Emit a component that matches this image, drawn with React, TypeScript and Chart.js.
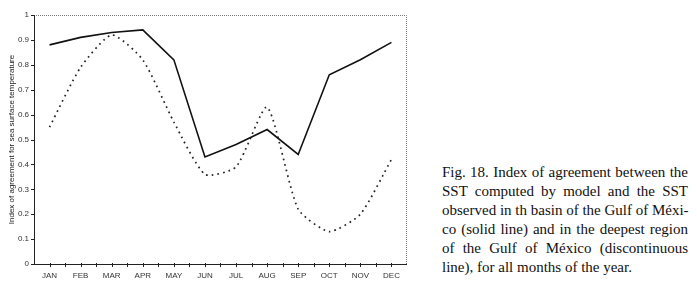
import React, { useEffect, useRef } from "react";
import { Chart, registerables } from "chart.js";

Chart.register(...registerables);

const months = ["JAN", "FEB", "MAR", "APR", "MAY", "JUN", "JUL", "AUG", "SEP", "OCT", "NOV", "DEC"];
const basinValues = [0.88, 0.91, 0.93, 0.94, 0.82, 0.43, 0.48, 0.54, 0.44, 0.76, 0.82, 0.89];
const deepValues = [0.55, 0.79, 0.92, 0.82, 0.57, 0.36, 0.39, 0.63, 0.22, 0.13, 0.20, 0.42];
const yTickLabels = ["0", "0.1", "0.2", "0.3", "0.4", "0.5", "0.6", "0.7", "0.8", "0.9", "1"];
const yTitle = "Index of agreement for sea surface temperature";
const captionLines = [
  "Fig. 18. Index of agreement between the",
  "SST computed by model and the SST",
  "observed in th basin of the Gulf of Méxi-",
  "co (solid line) and in the deepest region",
  "of the Gulf of México (discontinuous",
  "line), for all months of the year.",
];

const framePlugin = {
  id: "frame",
  afterDraw(chart: any) {
    const { ctx, chartArea } = chart;
    const { left, right, top, bottom } = chartArea;
    ctx.save();
    ctx.strokeStyle = "#777";
    ctx.lineWidth = 1;
    ctx.setLineDash([1, 1]);
    ctx.beginPath();
    ctx.moveTo(left, top + 0.5);
    ctx.lineTo(right - 0.5, top + 0.5);
    ctx.lineTo(right - 0.5, bottom);
    ctx.stroke();
    ctx.setLineDash([]);
    ctx.strokeStyle = "#222";
    ctx.beginPath();
    ctx.moveTo(left + 0.5, top);
    ctx.lineTo(left + 0.5, bottom + 0.5);
    ctx.lineTo(right, bottom + 0.5);
    ctx.stroke();
    const xs = chart.scales.x;
    const n = xs.ticks.length;
    const step = n > 1 ? xs.getPixelForTick(1) - xs.getPixelForTick(0) : 0;
    ctx.beginPath();
    for (let i = 0; i < n; i++) {
      const c = Math.round(xs.getPixelForTick(i)) + 0.5;
      ctx.moveTo(c, bottom - 1);
      ctx.lineTo(c, bottom + 3);
      const b = Math.round(xs.getPixelForTick(i) + step / 2) + 0.5;
      if (b < right - 1) {
        ctx.moveTo(b, bottom - 1);
        ctx.lineTo(b, bottom + 3);
      }
    }
    const ys = chart.scales.y;
    ys.ticks.forEach((_t: any, i: number) => {
      const y = Math.round(ys.getPixelForTick(i)) + 0.5;
      ctx.moveTo(left - 3, y);
      ctx.lineTo(left + 1, y);
    });
    ctx.stroke();
    ctx.restore();
  },
};

export default function App() {
  const ref = useRef<HTMLCanvasElement>(null);
  useEffect(() => {
    if (!ref.current) return;
    const chart = new Chart(ref.current, {
      type: "line",
      data: {
        labels: months,
        datasets: [
          {
            label: "basin",
            data: basinValues,
            borderColor: "#111",
            borderWidth: 1.6,
            pointRadius: 0,
            tension: 0,
            fill: false,
          },
          {
            label: "deep",
            data: deepValues,
            borderColor: "#222",
            borderWidth: 1.7,
            borderDash: [1.7, 4],
            pointRadius: 0,
            tension: 0.2,
            fill: false,
          },
        ],
      },
      options: {
        animation: false,
        responsive: false,
        devicePixelRatio: 1,
        layout: { padding: { top: 15, right: 13, left: 0, bottom: 0 } },
        plugins: { legend: { display: false }, tooltip: { enabled: false } },
        scales: {
          x: {
            offset: true,
            grid: { display: false, drawTicks: false },
            border: { display: false },
            ticks: {
              color: "#333",
              font: { family: "Liberation Sans", size: 8 },
              padding: 7,
              maxRotation: 0,
              autoSkip: false,
            },
            afterFit(scale: any) {
              scale.height = 28;
            },
          },
          y: {
            min: 0,
            max: 1,
            grid: { display: false, drawTicks: false },
            border: { display: false },
            ticks: {
              stepSize: 0.1,
              color: "#333",
              font: { family: "Liberation Sans", size: 8 },
              padding: 5,
              callback: (_v: any, i: number) => yTickLabels[i],
            },
            title: {
              display: true,
              text: yTitle,
              color: "#222",
              font: { family: "Liberation Sans", size: 8 },
              padding: { top: 7, bottom: 0 },
            },
            afterFit(scale: any) {
              scale.width = 34;
            },
          },
        },
      },
      plugins: [framePlugin],
    });
    return () => chart.destroy();
  }, []);

  return (
    <div style={{ position: "absolute", left: 0, top: 0, width: 697, height: 292, background: "#fff" }}>
      <canvas ref={ref} width={420} height={292} style={{ position: "absolute", left: 0, top: 0, width: 420, height: 292 }} />
      <div
        style={{
          position: "absolute",
          left: 442,
          top: 163,
          width: 246,
          fontFamily: "'Liberation Serif', 'Times New Roman', serif",
          fontSize: 15,
          lineHeight: "19px",
          color: "#111",
        }}
      >
        {captionLines.map((line, i) => (
          <div
            key={i}
            style={{
              whiteSpace: "nowrap",
              textAlign: i < captionLines.length - 1 ? "justify" : "left",
              textAlignLast: i < captionLines.length - 1 ? "justify" : "left",
            }}
          >
            {line}
          </div>
        ))}
      </div>
    </div>
  );
}
